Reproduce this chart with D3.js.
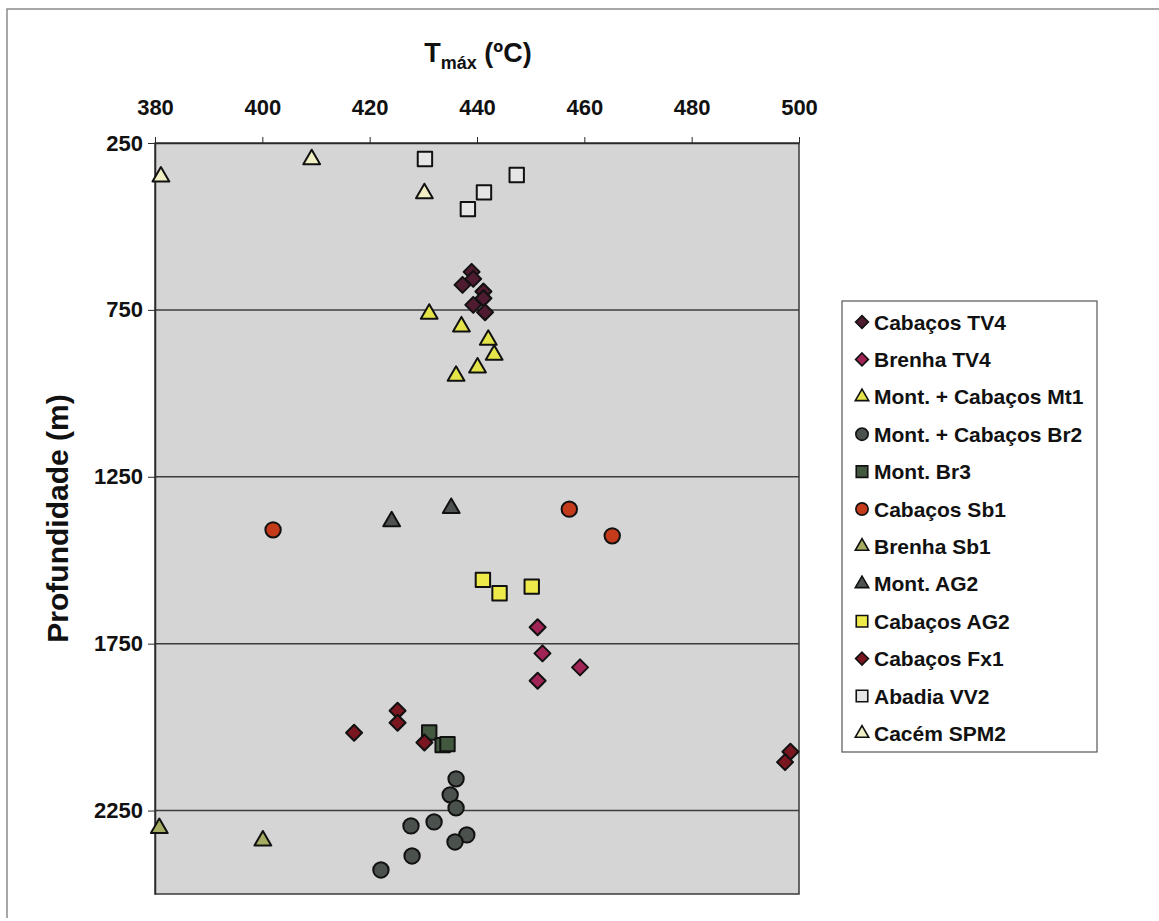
<!DOCTYPE html>
<html>
<head>
<meta charset="utf-8">
<script src="https://cdn.jsdelivr.net/npm/d3@7"></script>
<style>
  body { margin: 0; background: #fff; }
  svg { display: block; font-family: "Liberation Sans", Arial, sans-serif; font-weight: bold; }
</style>
</head>
<body>
<div id="app"></div>
<script>
// tick labels
const X_TICKS = [380, 400, 420, 440, 460, 480, 500];
const Y_TICKS = [250, 750, 1250, 1750, 2250];

// series: [Tmax, depth]
const cabacosTV4 = [[439.0, 636], [439.3, 657], [437.3, 675], [441.2, 695], [441.2, 715], [439.3, 735], [441.5, 757]];
const brenhaTV4 = [[451.3, 1701], [452.2, 1779], [459.2, 1821], [451.3, 1861]];
const montCabMt1 = [[431.1, 762], [437.1, 800], [442.1, 840], [443.2, 885], [440.1, 923], [436.1, 948]];
const montCabBr2 = [[436.1, 2155], [435.0, 2203], [436.1, 2242], [432.0, 2284], [427.7, 2296], [438.1, 2323], [435.9, 2344], [427.9, 2386], [422.1, 2428]];
const montBr3 = [[431.1, 2016], [433.6, 2054], [434.5, 2051]];
const cabacosSb1 = [[402.0, 1409], [457.2, 1347], [465.2, 1427]];
const brenhaSb1 = [[380.8, 2303], [400.1, 2340]];
const montAG2 = [[424.1, 1384], [435.2, 1344]];
const cabacosAG2 = [[441.1, 1559], [444.2, 1599], [450.2, 1579]];
const cabacosFx1 = [[425.2, 1951], [425.2, 1987], [417.1, 2017], [430.2, 2046], [498.4, 2074], [497.4, 2105]];
const abadiaVV2 = [[430.3, 298], [447.4, 346], [441.3, 398], [438.3, 448]];
const cacemSPM2 = [[381.1, 351], [409.2, 299], [430.2, 401]];

const SERIES = [
  { name: "Cabaços TV4", shape: "diamond", fill: "#4e1b30", data: cabacosTV4 },
  { name: "Brenha TV4", shape: "diamond", fill: "#a02455", data: brenhaTV4 },
  { name: "Mont. + Cabaços Mt1", shape: "triangle", fill: "#e4e44a", data: montCabMt1 },
  { name: "Mont. + Cabaços Br2", shape: "circle", fill: "#4b514c", data: montCabBr2 },
  { name: "Mont. Br3", shape: "square", fill: "#42593f", data: montBr3 },
  { name: "Cabaços Sb1", shape: "circle", fill: "#c43b1c", data: cabacosSb1 },
  { name: "Brenha Sb1", shape: "triangle", fill: "#a6ad62", data: brenhaSb1 },
  { name: "Mont. AG2", shape: "triangle", fill: "#4e5250", data: montAG2 },
  { name: "Cabaços AG2", shape: "square", fill: "#eeea4a", data: cabacosAG2 },
  { name: "Cabaços Fx1", shape: "diamond", fill: "#7a1620", data: cabacosFx1 },
  { name: "Abadia VV2", shape: "square", fill: "#e6e6e6", data: abadiaVV2 },
  { name: "Cacém SPM2", shape: "triangle", fill: "#f0f0c4", data: cacemSPM2 }
];

const W = 1159, H = 921;
const plot = { left: 155, right: 799, top: 143, bottom: 894 };

const x = d3.scaleLinear().domain([380, 500]).range([plot.left, plot.right]);
const y = d3.scaleLinear().domain([250, 2500]).range([plot.top, plot.bottom]);

function shapePath(shape, s) {
  // s = scale factor (1 for plot, smaller for legend)
  switch (shape) {
    case "diamond": { const r = 8 * s; return `M0,${-r}L${r},0L0,${r}L${-r},0Z`; }
    case "square": { const r = 7.2 * s; return `M${-r},${-r}H${r}V${r}H${-r}Z`; }
    case "triangle": { const w = 8.4 * s, h = 14.5 * s; return `M0,${-h * 2 / 3}L${w},${h / 3}L${-w},${h / 3}Z`; }
    default: { const r = 7.7 * s; return `M${r},0A${r},${r} 0 1,1 ${-r},0A${r},${r} 0 1,1 ${r},0Z`; }
  }
}

const svg = d3.select("#app").append("svg")
    .attr("width", W)
    .attr("height", H);

// outer frame
svg.append("path")
    .attr("d", `M7,${H - 3}V9H${W}`)
    .attr("fill", "none")
    .attr("stroke", "#8a8a8a")
    .attr("stroke-width", 1.5);

// plot background
svg.append("rect")
    .attr("x", plot.left).attr("y", plot.top)
    .attr("width", plot.right - plot.left)
    .attr("height", plot.bottom - plot.top)
    .attr("fill", "#d5d5d5")
    .attr("stroke", "#3a3a3a")
    .attr("stroke-width", 1.5);

// gridlines
svg.append("g").selectAll("line")
    .data(Y_TICKS.slice(1))
  .enter().append("line")
    .attr("x1", plot.left).attr("x2", plot.right)
    .attr("y1", d => y(d)).attr("y2", d => y(d))
    .attr("stroke", "#3c3c3c")
    .attr("stroke-width", 1.5);

const tickFont = sel => sel
    .attr("fill", "#111")
    .style("font-size", "22px")
    .style("font-family", "Liberation Sans, Arial, sans-serif")
    .style("font-weight", "bold");

// top axis
const xAxis = d3.axisTop(x).tickValues(X_TICKS).tickSize(6).tickSizeOuter(0).tickPadding(22);
const gx = svg.append("g")
    .attr("transform", `translate(0, ${plot.top})`)
    .call(xAxis);
gx.select(".domain").attr("stroke", "#2a2a2a").attr("stroke-width", 1.5);
gx.selectAll(".tick line").attr("stroke", "#2a2a2a");
gx.selectAll(".tick text").call(tickFont);

// left axis
const yAxis = d3.axisLeft(y).tickValues(Y_TICKS).tickFormat(d3.format("d"))
    .tickSize(7).tickSizeOuter(0).tickPadding(5);
const gy = svg.append("g")
    .attr("transform", `translate(${plot.left}, 0)`)
    .call(yAxis);
gy.select(".domain").attr("stroke", "#2a2a2a").attr("stroke-width", 1.5);
gy.selectAll(".tick line").attr("stroke", "#2a2a2a");
gy.selectAll(".tick text").call(tickFont);

// axis titles
const title = svg.append("text")
    .attr("x", 478)
    .attr("y", 62)
    .attr("text-anchor", "middle")
    .attr("fill", "#111")
    .style("font-size", "27px");
title.append("tspan").text("T");
title.append("tspan").attr("dy", 7).style("font-size", "18px").text("máx");
title.append("tspan").attr("dy", -7).text(" (ºC)");

svg.append("text")
    .attr("transform", `translate(68, ${(plot.top + plot.bottom) / 2}) rotate(-90)`)
    .attr("text-anchor", "middle")
    .attr("fill", "#111")
    .style("font-size", "30px")
    .text("Profundidade (m)");

// points
SERIES.forEach(s => {
  svg.append("g").selectAll("path")
      .data(s.data)
    .enter().append("path")
      .attr("transform", d => `translate(${x(d[0])}, ${y(d[1])})`)
      .attr("d", shapePath(s.shape, 1))
      .attr("fill", s.fill)
      .attr("stroke", "#111")
      .attr("stroke-width", 2)
      .attr("stroke-linejoin", "round");
});

// legend
const legendBox = { x: 842, y: 301, w: 255, h: 451 };
svg.append("rect")
    .attr("x", legendBox.x).attr("y", legendBox.y)
    .attr("width", legendBox.w).attr("height", legendBox.h)
    .attr("fill", "#fff")
    .attr("stroke", "#555")
    .attr("stroke-width", 1.2);

const legend = svg.selectAll(".legend")
    .data(SERIES)
  .enter().append("g")
    .attr("class", "legend")
    .attr("transform", (d, i) => `translate(862, ${322 + i * 37.4})`);

legend.append("path")
    .attr("d", d => shapePath(d.shape, 0.8))
    .attr("fill", d => d.fill)
    .attr("stroke", "#111")
    .attr("stroke-width", 1.6);

legend.append("text")
    .attr("x", 12)
    .attr("dy", "0.36em")
    .attr("fill", "#111")
    .style("font-size", "21px")
    .text(d => d.name);
</script>
</body>
</html>
